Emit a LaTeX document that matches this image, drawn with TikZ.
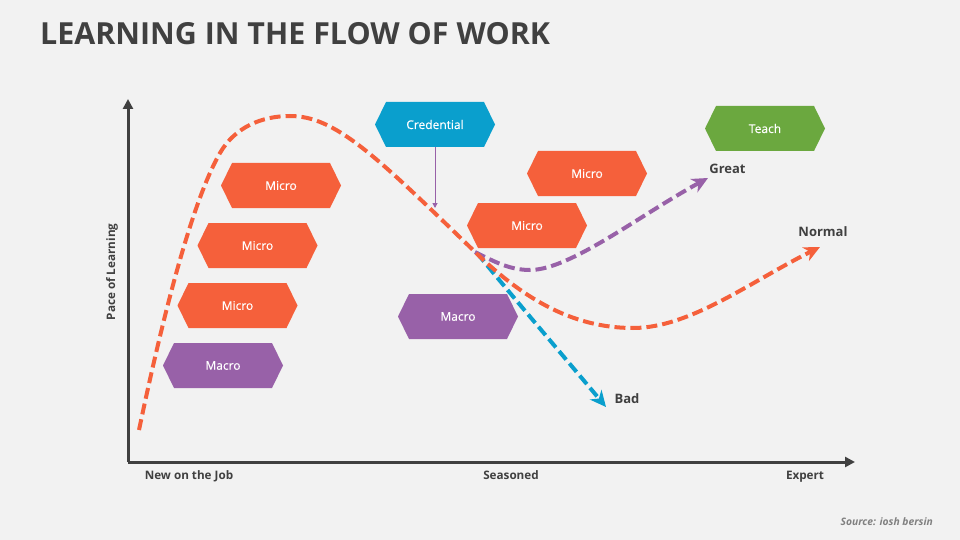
\documentclass[tikz,border=0pt]{standalone}
\usepackage{fontspec}
\setmainfont{Open Sans}
\newfontface\hexface{Open Sans}[FakeBold=0.25]
\usetikzlibrary{arrows.meta}
\definecolor{bgc}{HTML}{F2F2F2}
\definecolor{ink}{HTML}{404040}
\definecolor{orangec}{HTML}{F5603B}
\definecolor{purplec}{HTML}{9861A8}
\definecolor{bluec}{HTML}{0A9FCD}
\definecolor{greenc}{HTML}{6BA83F}
\tikzset{
  hexlabel/.style={text=white,font=\fontsize{12}{14}\hexface,inner sep=0pt,minimum width=120pt,minimum height=45pt},
  lbl/.style={text=ink,font=\fontsize{13}{15}\selectfont\bfseries,inner sep=0pt},
  axlbl/.style={text=ink,font=\fontsize{11.7}{13}\selectfont\bfseries,inner sep=0pt,text height=9pt,text depth=3pt},
  axisline/.style={draw=ink,line width=3pt,-{Triangle[length=10pt,width=10pt]}},
  curve/.style={line width=4pt,dash pattern=on 11pt off 5pt,-{Stealth[length=16pt,width=15pt,inset=5pt]}},
}
\newcommand{\hexbox}[5]{% name, cx, cy, colour, text
  \fill[#4] (#2-60,#3) -- (#2-49,#3-22.5) -- (#2+49,#3-22.5) -- (#2+60,#3) -- (#2+49,#3+22.5) -- (#2-49,#3+22.5) -- cycle;
  \node[hexlabel] (#1) at (#2,#3) {#5};
}
\begin{document}
\begin{tikzpicture}[x=1pt,y=-1pt]
\useasboundingbox (0,0) rectangle (960,540);
\fill[bgc] (0,0) rectangle (960,540);
\node[anchor=west,text=ink,font=\fontsize{30.4}{36}\selectfont\bfseries,inner sep=0pt] (title) at (40,34) {LEARNING IN THE FLOW OF WORK};
% axes
\coordinate (origin) at (128,462);
\coordinate (ytip) at (128,99);
\coordinate (xtip) at (855,462);
\draw[axisline] (origin) -- (ytip);
\draw[axisline] (origin) -- (xtip);
% boxes
\hexbox{mA}{281}{185.5}{orangec}{Micro}
\hexbox{mB}{257.5}{245.5}{orangec}{Micro}
\hexbox{mC}{237.5}{305.5}{orangec}{Micro}
\hexbox{macA}{223}{365.5}{purplec}{Macro}
\hexbox{cred}{435}{124.5}{bluec}{Credential}
\hexbox{mD}{587}{173.5}{orangec}{Micro}
\hexbox{mE}{527}{225.5}{orangec}{Micro}
\hexbox{macB}{458}{316.5}{purplec}{Macro}
\hexbox{teach}{765}{128.5}{greenc}{Teach}
% curves
\coordinate (blueStart) at (477,253);
\coordinate (blueEnd) at (606,407);
\coordinate (purpleStart) at (475,252);
\coordinate (purpleEnd) at (708,178);
\coordinate (orangeStart) at (139,430);
\coordinate (orangeEnd) at (820,247);
\draw[curve,bluec] (blueStart) .. controls (507,290) and (560,352) .. (blueEnd);
\draw[curve,purplec] (purpleStart) .. controls (495,262) and (510,270) .. (530,270) .. controls (570,270) and (640,215) .. (purpleEnd);
\draw[curve,orangec] (orangeStart) .. controls (160,330) and (190,205) .. (220,153)
  .. controls (235,127) and (262,116) .. (290,116)
  .. controls (335,116) and (375,155) .. (473,250)
  .. controls (520,296) and (570,328) .. (633,328)
  .. controls (690,328) and (750,282) .. (orangeEnd);
% credential connector
\coordinate (credEnd) at (435,208);
\draw[purplec,line width=1pt,-{Triangle[length=5pt,width=5pt]}] (cred.south) -- (credEnd);
% labels
\node[lbl] (great) at (727.5,169) {Great};
\node[lbl] (normal) at (823,232) {Normal};
\node[lbl] (bad) at (627,399) {Bad};
\node[axlbl] (new) at (189,476) {New on the Job};
\node[axlbl] (seas) at (511,476) {Seasoned};
\node[axlbl] (exp) at (805,476) {Expert};
\node[axlbl,rotate=90] (pace) at (112,272) {Pace of Learning};
\node[anchor=east,text=black!50,font=\fontsize{10.3}{12}\selectfont\bfseries\itshape,inner sep=0pt] (src) at (933,522) {Source: iosh bersin};
\end{tikzpicture}
\end{document}
